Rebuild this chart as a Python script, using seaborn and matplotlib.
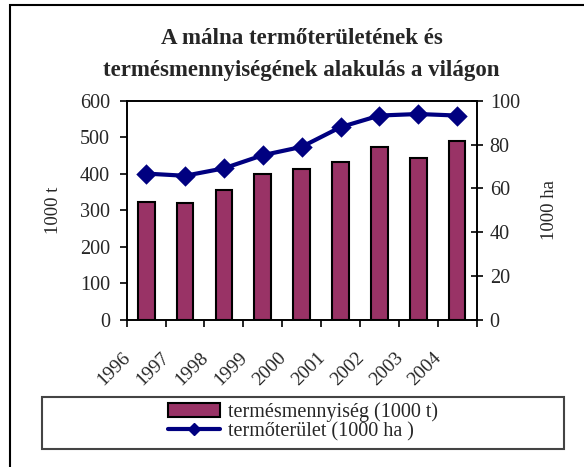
import numpy as np
import pandas as pd
import matplotlib
matplotlib.use('Agg')
import matplotlib.pyplot as plt
from matplotlib.patches import Rectangle
from matplotlib.lines import Line2D
from matplotlib.transforms import ScaledTranslation
import seaborn as sns

# data
years = ['1996', '1997', '1998', '1999', '2000', '2001', '2002', '2003', '2004']
termes = [324, 319, 356, 401, 412, 433, 473, 443, 489]       # 1000 t
terulet = [66.8, 65.8, 69.2, 75.2, 79.0, 88.0, 93.3, 94.0, 93.3]  # 1000 ha

df = pd.DataFrame({'ev': years, 'termes': termes, 'terulet': terulet})

sns.set_theme(style='ticks')
plt.rcParams['font.family'] = ['Liberation Serif', 'DejaVu Serif']

fig = plt.figure(figsize=(5.84, 4.67), dpi=100)
ax = fig.add_axes([0.217, 0.315, 0.599, 0.469])
ax2 = ax.twinx()

# bars
sns.barplot(data=df, x='ev', y='termes', ax=ax, color='#993366', saturation=1,
            width=0.43, edgecolor='black', linewidth=1.5, errorbar=None)
# line
sns.pointplot(data=df, x='ev', y='terulet', ax=ax2, color='#000080', markers='D',
              linestyles='-', errorbar=None, markersize=8, linewidth=3)

ax.set_ylim(0, 600)
ax.set_yticks(np.arange(0, 601, 100))
ax2.set_ylim(0, 100)
ax2.set_yticks(np.arange(0, 101, 20))
ax.set_xlim(-0.5, len(years) - 0.5)

# ticks at the category borders, labels in the middle
ax.set_xticks(np.arange(-0.5, len(years)), labels=[])
ax.set_xticks(np.arange(len(years)), labels=years, minor=True)
ax.tick_params(axis='x', which='major', direction='out', length=5, width=1.2, color='black')
ax.tick_params(axis='x', which='minor', length=0, pad=21, labelsize=14)
for lab in ax.get_xticklabels(minor=True):
    lab.set_rotation(45)
    lab.set_ha('right')
    lab.set_transform(lab.get_transform() + ScaledTranslation(-0.12, 0, fig.dpi_scale_trans))

ax.tick_params(axis='y', direction='out', length=5, width=1.2, pad=7, labelsize=14.5, color='black')
ax2.tick_params(axis='y', direction='inout', length=9, width=1.2, pad=5, labelsize=14.5, color='black')

ax.set_xlabel('')
ax2.set_xlabel('')
ax.set_ylabel('1000 t', fontsize=13.5, labelpad=13)
ax2.set_ylabel('1000 ha', fontsize=13.5, labelpad=15)

for a in (ax, ax2):
    for s in a.spines.values():
        s.set_visible(True)
        s.set_color('black')
        s.set_linewidth(1.2)

ax.set_title('A málna termőterületének és\ntermésmennyiségének alakulás a világon',
             fontsize=16.5, fontweight='bold', linespacing=1.65, pad=18)

# legend box below the chart
fig.add_artist(Rectangle((42 / 584, 1 - 449 / 467), 522 / 584, 52 / 467,
                         transform=fig.transFigure, fill=False,
                         edgecolor='#444444', linewidth=1.5))
line_handle = Line2D([], [], color='#000080', marker='D', markersize=6, linewidth=3)
fig.legend([ax.patches[0], line_handle],
           ['termésmennyiség (1000 t)', 'termőterület (1000 ha )'],
           loc='center', bbox_to_anchor=(303 / 584, 1 - 422 / 467),
           frameon=False, fontsize=14.5, handlelength=2.6, handletextpad=0.4,
           labelspacing=0.0, borderpad=0)

# outer chart frame
fig.add_artist(Rectangle((10 / 584, -0.1), 1.2, 1.1 - 5 / 467,
                         transform=fig.transFigure, fill=False,
                         edgecolor='black', linewidth=1.5))

fig.savefig('out.png', dpi=100)
